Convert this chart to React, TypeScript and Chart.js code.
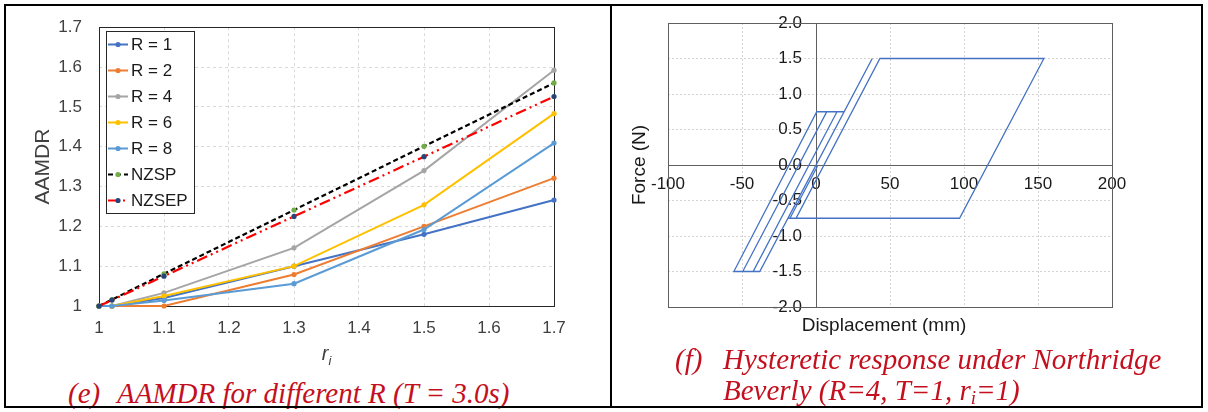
import React, { useEffect, useRef } from "react";
import { Chart, registerables } from "chart.js";

Chart.register(...registerables);

// ---------- Panel (e): AAMDR for different R ----------
const riValues = [1, 1.02, 1.1, 1.3, 1.5, 1.7];
const aamdrR1 = [1, 1, 1.02, 1.1, 1.18, 1.266];
const aamdrR2 = [1, 1, 1.0, 1.079, 1.2, 1.321];
const aamdrR4 = [1, 1, 1.033, 1.146, 1.34, 1.592];
const aamdrR6 = [1, 1, 1.025, 1.1, 1.254, 1.483];
const aamdrR8 = [1, 1, 1.014, 1.056, 1.192, 1.409];
const aamdrNZSP = [1, 1.016, 1.081, 1.241, 1.401, 1.56];
const aamdrNZSEP = [1, 1.015, 1.075, 1.225, 1.375, 1.526];
const seriesLabels = ["R = 1", "R = 2", "R = 4", "R = 6", "R = 8", "NZSP", "NZSEP"];
const lineColors = ["#4472C4", "#ED7D31", "#A5A5A5", "#FFC000", "#5B9BD5", "#000000", "#FF0000"];
const markerColors = ["#4472C4", "#ED7D31", "#A5A5A5", "#FFC000", "#5B9BD5", "#70AD47", "#264478"];
const lineDashes: number[][] = [[], [], [], [], [], [5, 3], [11, 4, 2, 4, 2, 4]];

// ---------- Panel (f): hysteretic response ----------
const displacementMm = [0, 19, -38, -55.5, 0.5, 14.2, -42.5, -49.5, 7.3, 19, 38, -18.9, -13.5, 43.2, 154, 97, -17.6, 1.4];
const forceN = [0, 0.75, -1.5, -1.5, 0.75, 0.75, -1.5, -1.5, 0.75, 0.75, 1.5, -0.75, -0.75, 1.5, 1.5, -0.75, -0.75, 0];

const SANS = "'Liberation Sans', Arial, sans-serif";
const SERIF = "'Liberation Serif', 'Times New Roman', serif";

function AamdrChart() {
  const ref = useRef<HTMLCanvasElement>(null);
  useEffect(() => {
    if (!ref.current) return;
    const all = [aamdrR1, aamdrR2, aamdrR4, aamdrR6, aamdrR8, aamdrNZSP, aamdrNZSEP];
    const datasets = all.map((vals, i) => ({
      label: seriesLabels[i],
      data: riValues.map((x, j) => ({ x, y: vals[j] })),
      showLine: true,
      borderColor: lineColors[i],
      backgroundColor: markerColors[i],
      pointBackgroundColor: markerColors[i],
      pointBorderColor: markerColors[i],
      pointRadius: 2.6,
      pointHoverRadius: 2.6,
      pointBorderWidth: 0,
      borderWidth: i >= 5 ? 2.2 : 2,
      borderDash: lineDashes[i],
      clip: false as any,
      order: all.length - i,
    }));

    const framePlugin = {
      id: "frameE",
      beforeDatasetsDraw(chart: any) {
        const { ctx, chartArea: a } = chart;
        ctx.save();
        ctx.strokeStyle = "#262626";
        ctx.lineWidth = 1;
        ctx.strokeRect(Math.round(a.left) + 0.5, Math.round(a.top) + 0.5, Math.round(a.right - a.left), Math.round(a.bottom - a.top));
        ctx.restore();
      },
    };

    const legendPlugin = {
      id: "boxLegendE",
      afterDatasetsDraw(chart: any) {
        const { ctx, chartArea: a } = chart;
        const x0 = Math.round(a.left) + 7;
        const y0 = Math.round(a.top) + 4;
        const w = 88;
        const h = 182;
        ctx.save();
        ctx.fillStyle = "#ffffff";
        ctx.fillRect(x0, y0, w, h);
        ctx.strokeStyle = "#262626";
        ctx.lineWidth = 1;
        ctx.strokeRect(x0 + 0.5, y0 + 0.5, w, h);
        chart.data.datasets.forEach((ds: any, i: number) => {
          const cy = y0 + 13.5 + i * 26;
          ctx.setLineDash(ds.borderDash || []);
          ctx.strokeStyle = ds.borderColor;
          ctx.lineWidth = ds.borderWidth;
          ctx.beginPath();
          ctx.moveTo(x0 + 2, cy);
          ctx.lineTo(x0 + 22, cy);
          ctx.stroke();
          ctx.setLineDash([]);
          ctx.fillStyle = ds.pointBackgroundColor;
          ctx.beginPath();
          ctx.arc(x0 + 12, cy, 2.6, 0, Math.PI * 2);
          ctx.fill();
          ctx.fillStyle = "#1a1a1a";
          ctx.font = `17px ${SANS}`;
          ctx.textBaseline = "middle";
          ctx.textAlign = "left";
          ctx.fillText(ds.label, x0 + 25, cy + 1);
        });
        ctx.restore();
      },
    };

    const riTitlePlugin = {
      id: "riTitle",
      afterDraw(chart: any) {
        const { ctx, chartArea: a } = chart;
        const cx = (a.left + a.right) / 2;
        ctx.save();
        ctx.fillStyle = "#404040";
        ctx.textBaseline = "alphabetic";
        ctx.textAlign = "left";
        ctx.font = `italic 20px ${SANS}`;
        const wr = ctx.measureText("r").width;
        ctx.font = `italic 13px ${SANS}`;
        const wi = ctx.measureText("i").width;
        const x0 = cx - (wr + wi) / 2;
        ctx.font = `italic 20px ${SANS}`;
        ctx.fillText("r", x0, a.bottom + 54);
        ctx.font = `italic 13px ${SANS}`;
        ctx.fillText("i", x0 + wr, a.bottom + 59);
        ctx.restore();
      },
    };

    const chart = new Chart(ref.current, {
      type: "scatter",
      data: { datasets: datasets as any },
      options: {
        animation: false,
        responsive: false,
        events: [],
        layout: { padding: { top: 20, right: 54, left: 0, bottom: 0 } },
        plugins: { legend: { display: false }, tooltip: { enabled: false }, title: { display: false } },
        scales: {
          x: {
            type: "linear",
            min: 1,
            max: 1.7,
            afterFit: (s: any) => {
              s.height = 66;
            },
            ticks: {
              stepSize: 0.1,
              padding: 12,
              color: "#404040",
              font: { family: SANS, size: 17 },
              maxRotation: 0,
              autoSkip: false,
              callback: (v: any) => String(Math.round(Number(v) * 10) / 10),
            },
            grid: { color: "#d9d9d9", lineWidth: 1, drawTicks: false },
            border: { display: false, dash: [3, 3] },
          },
          y: {
            type: "linear",
            min: 1,
            max: 1.7,
            afterFit: (s: any) => {
              s.width = 99;
            },
            ticks: {
              stepSize: 0.1,
              padding: 17,
              color: "#404040",
              font: { family: SANS, size: 17 },
              autoSkip: false,
              callback: (v: any) => String(Math.round(Number(v) * 10) / 10),
            },
            grid: { color: "#d9d9d9", lineWidth: 1, drawTicks: false },
            border: { display: false, dash: [3, 3] },
            title: {
              display: true,
              text: "AAMDR",
              color: "#404040",
              font: { family: SANS, size: 21 },
              padding: { top: 31, bottom: 0 },
            },
          },
        },
      },
      plugins: [framePlugin, legendPlugin, riTitlePlugin],
    });
    return () => chart.destroy();
  }, []);
  return (
    <canvas
      ref={ref}
      width={608}
      height={372}
      style={{ position: "absolute", left: 0, top: 0, width: 608, height: 372 }}
    />
  );
}

function HysteresisChart() {
  const ref = useRef<HTMLCanvasElement>(null);
  useEffect(() => {
    if (!ref.current) return;
    const framePlugin = {
      id: "frameF",
      beforeDatasetsDraw(chart: any) {
        const { ctx, chartArea: a } = chart;
        ctx.save();
        ctx.strokeStyle = "#5f5f5f";
        ctx.lineWidth = 1;
        ctx.strokeRect(Math.round(a.left) + 0.5, Math.round(a.top) + 0.5, Math.round(a.right - a.left), Math.round(a.bottom - a.top));
        ctx.restore();
      },
    };
    const titlesPlugin = {
      id: "titlesF",
      afterDraw(chart: any) {
        const { ctx, chartArea: a } = chart;
        ctx.save();
        ctx.fillStyle = "#1a1a1a";
        ctx.font = `19px ${SANS}`;
        ctx.textAlign = "center";
        ctx.textBaseline = "middle";
        ctx.fillText("Displacement (mm)", (a.left + a.right) / 2 - 6, a.bottom + 19);
        ctx.translate(a.left - 28, (a.top + a.bottom) / 2);
        ctx.rotate(-Math.PI / 2);
        ctx.fillText("Force (N)", 0, 0);
        ctx.restore();
      },
    };
    const chart = new Chart(ref.current, {
      type: "scatter",
      data: {
        datasets: [
          {
            label: "Hysteresis",
            data: displacementMm.map((d, i) => ({ x: d, y: forceN[i] })),
            showLine: true,
            borderColor: "#4472C4",
            backgroundColor: "#4472C4",
            borderWidth: 1.3,
            pointRadius: 0,
            pointHoverRadius: 0,
            tension: 0,
            clip: false as any,
          },
        ],
      },
      options: {
        animation: false,
        responsive: false,
        events: [],
        layout: { padding: { top: 23, right: 90, left: 56, bottom: 38 } },
        plugins: { legend: { display: false }, tooltip: { enabled: false }, title: { display: false } },
        scales: {
          x: {
            type: "linear",
            min: -100,
            max: 200,
            position: { y: 0 } as any,
            ticks: {
              stepSize: 50,
              padding: 9,
              color: "#1a1a1a",
              font: { family: SANS, size: 17 },
              maxRotation: 0,
              autoSkip: false,
              callback: (v: any) => String(v),
            },
            grid: { color: "#d4d4d4", lineWidth: 1, drawTicks: false },
            border: { display: true, color: "#5f5f5f", width: 1, dash: [2, 2] },
          },
          y: {
            type: "linear",
            min: -2,
            max: 2,
            position: { x: 0 } as any,
            ticks: {
              stepSize: 0.5,
              color: "#1a1a1a",
              font: { family: SANS, size: 17 },
              autoSkip: false,
              callback: (v: any) => Number(v).toFixed(1) + "   ",
            },
            grid: { color: "#d4d4d4", lineWidth: 1, drawTicks: false },
            border: { display: true, color: "#5f5f5f", width: 1, dash: [2, 2] },
          },
        },
      },
      plugins: [framePlugin, titlesPlugin],
    });
    return () => chart.destroy();
  }, []);
  return (
    <canvas
      ref={ref}
      width={590}
      height={345}
      style={{ position: "absolute", left: 612, top: 0, width: 590, height: 345 }}
    />
  );
}

const captionStyle: React.CSSProperties = {
  position: "absolute",
  fontFamily: SERIF,
  fontStyle: "italic",
  fontSize: 29,
  lineHeight: "31px",
  color: "#C4101E",
  whiteSpace: "nowrap",
};

export default function App() {
  const line = (s: React.CSSProperties) => <div style={{ position: "absolute", background: "#000", ...s }} />;
  return (
    <div style={{ position: "absolute", left: 0, top: 0, width: 1208, height: 412, background: "#fff", overflow: "hidden" }}>
      <AamdrChart />
      <HysteresisChart />
      <div style={{ ...captionStyle, left: 68, top: 378 }}>(e)</div>
      <div style={{ ...captionStyle, left: 117, top: 378 }}>AAMDR for different R (T = 3.0s)</div>
      <div style={{ ...captionStyle, left: 675, top: 344 }}>(f)</div>
      <div style={{ ...captionStyle, left: 723, top: 344 }}>
        Hysteretic response under Northridge
        <br />
        Beverly (R=4, T=1, r<sub style={{ fontSize: 19, verticalAlign: "-4px", lineHeight: 0 }}>i</sub>=1)
      </div>
      {line({ left: 4, top: 4, width: 1199, height: 2 })}
      {line({ left: 4, top: 406, width: 1199, height: 2 })}
      {line({ left: 4, top: 4, width: 2, height: 404 })}
      {line({ left: 610, top: 4, width: 2, height: 404 })}
      {line({ left: 1201, top: 4, width: 2, height: 404 })}
    </div>
  );
}
